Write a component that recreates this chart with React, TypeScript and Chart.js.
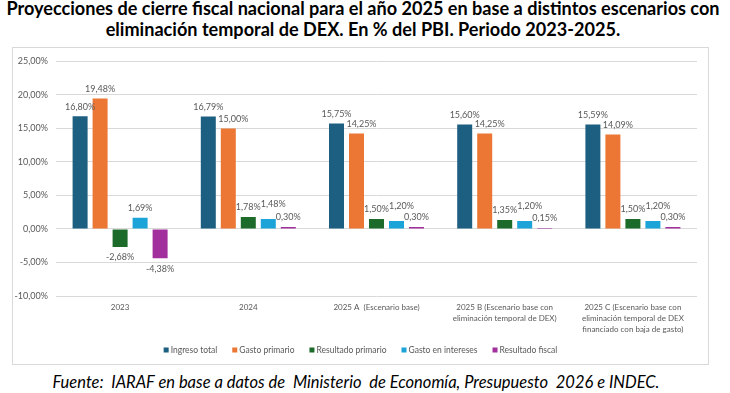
import React, { useEffect, useRef } from "react";
import { Chart, registerables } from "chart.js";

Chart.register(...registerables);

const categories: (string | string[])[] = [
  "2023",
  "2024",
  "2025 A  (Escenario base)",
  ["2025 B (Escenario base con", "eliminación temporal de DEX)"],
  ["2025 C (Escenario base con", "eliminación temporal de DEX", "financiado con baja de gasto)"],
];

const ingresoTotal = [16.8, 16.79, 15.75, 15.6, 15.59];
const gastoPrimario = [19.48, 15.0, 14.25, 14.25, 14.09];
const resultadoPrimario = [-2.68, 1.78, 1.5, 1.35, 1.5];
const gastoIntereses = [1.69, 1.48, 1.2, 1.2, 1.2];
const resultadoFiscal = [-4.38, 0.3, 0.3, 0.15, 0.3];

const seriesNames = [
  "Ingreso total",
  "Gasto primario",
  "Resultado primario",
  "Gasto en intereses",
  "Resultado fiscal",
];
const seriesColors = ["#1c5f80", "#ec7633", "#1d6b2a", "#1ca3d8", "#a2309c"];

const yMin = -10;
const yMax = 25;
const yStep = 5;

const FONT = "Lato, 'Noto Sans', sans-serif";
const TEXT_GRAY = "#595959";

const fmt = (v: number) => v.toFixed(2).replace(".", ",") + "%";

// label nudges applied only when a label would collide with the previous series' label
const labelNudge: ({ dx: number; dy: number } | null)[] = [
  null,
  { dx: 5, dy: 0 },
  null,
  { dx: 5, dy: -5 },
  null,
];

const dataLabelPlugin = {
  id: "dataLabels",
  afterDatasetsDraw(chart: any) {
    const ctx = chart.ctx;
    ctx.save();
    ctx.font = `9px ${FONT}`;
    ctx.fillStyle = TEXT_GRAY;
    ctx.textAlign = "center";
    ctx.textBaseline = "middle";
    const prevBoxes: any[] = [];
    chart.data.datasets.forEach((ds: any, di: number) => {
      const meta = chart.getDatasetMeta(di);
      const boxes: any[] = [];
      meta.data.forEach((el: any, i: number) => {
        const v = ds.data[i];
        const text = fmt(v);
        const w = ctx.measureText(text).width;
        let x = el.x;
        let y = v >= 0 ? el.y - 9.5 : el.y + 10.5;
        const nudge = labelNudge[di];
        const prev = di > 0 ? prevBoxes[i] : null;
        if (nudge && prev) {
          const overlap =
            Math.abs(prev.x - x) < (prev.w + w) / 2 && Math.abs(prev.y - y) < 14;
          if (overlap) {
            x += nudge.dx;
            y += nudge.dy;
          }
        }
        ctx.fillText(text, x, y);
        boxes[i] = { x, y, w };
      });
      boxes.forEach((b, i) => (prevBoxes[i] = b));
    });
    ctx.restore();
  },
};

const legendPlugin = {
  id: "customLegend",
  afterDraw(chart: any) {
    const ctx = chart.ctx;
    ctx.save();
    ctx.font = `8.5px ${FONT}`;
    ctx.textBaseline = "middle";
    ctx.textAlign = "left";
    const box = 5;
    const gap = 2;
    const sep = 15;
    const items = chart.data.datasets.map((ds: any) => ({
      text: ds.label,
      color: ds.backgroundColor,
      w: box + gap + ctx.measureText(ds.label).width,
    }));
    const total =
      items.reduce((s: number, it: any) => s + it.w, 0) + sep * (items.length - 1);
    let x = (chart.width - total) / 2;
    const y = 302;
    items.forEach((it: any) => {
      ctx.fillStyle = it.color;
      ctx.fillRect(x, y - box / 2, box, box);
      ctx.fillStyle = TEXT_GRAY;
      ctx.fillText(it.text, x + box + gap, y);
      x += it.w + sep;
    });
    ctx.restore();
  },
};

function BarChart() {
  const ref = useRef<HTMLCanvasElement | null>(null);
  useEffect(() => {
    if (!ref.current) return;
    const values = [ingresoTotal, gastoPrimario, resultadoPrimario, gastoIntereses, resultadoFiscal];
    const chart = new Chart(ref.current, {
      type: "bar",
      data: {
        labels: categories,
        datasets: values.map((d, i) => ({
          label: seriesNames[i],
          data: d,
          backgroundColor: seriesColors[i],
          borderWidth: 0,
          categoryPercentage: 0.78,
          barPercentage: 0.75,
        })),
      },
      options: {
        animation: false,
        responsive: false,
        devicePixelRatio: 1,
        layout: { padding: { left: 0, right: 11, top: 10, bottom: 0 } },
        plugins: {
          legend: { display: false },
          tooltip: { enabled: false },
          title: { display: false },
        },
        scales: {
          x: {
            grid: { display: false, drawTicks: false },
            border: { display: false },
            ticks: {
              color: TEXT_GRAY,
              font: { family: FONT, size: 8, lineHeight: "11px" },
              padding: 6,
              maxRotation: 0,
              autoSkip: false,
            },
            afterFit: (scale: any) => {
              scale.height = 68;
            },
          },
          y: {
            min: yMin,
            max: yMax,
            grid: { color: "#d9d9d9", lineWidth: 1, drawTicks: false },
            border: { display: false },
            ticks: {
              stepSize: yStep,
              color: TEXT_GRAY,
              font: { family: FONT, size: 9 },
              padding: 8,
              callback: (v: any) => fmt(Number(v)),
            },
            afterFit: (scale: any) => {
              scale.width = 43;
            },
          },
        },
      },
      plugins: [dataLabelPlugin, legendPlugin],
    });
    return () => chart.destroy();
  }, []);
  return (
    <canvas
      ref={ref}
      width={695}
      height={316}
      style={{ position: "absolute", left: 13, top: 48, width: 695, height: 316 }}
    />
  );
}

export default function App() {
  return (
    <div
      style={{
        position: "fixed",
        left: 0,
        top: 0,
        width: 730,
        height: 393,
        background: "#fff",
        fontFamily: FONT,
        overflow: "hidden",
      }}
    >
      <div
        style={{
          position: "absolute",
          left: 0,
          top: -2,
          width: 726,
          textAlign: "center",
          fontWeight: 700,
          fontSize: 18.1,
          lineHeight: "21px",
          color: "#000",
          whiteSpace: "nowrap",
        }}
      >
        <div>Proyecciones de cierre fiscal nacional para el año 2025 en base a distintos escenarios con</div>
        <div>eliminación temporal de DEX. En % del PBI. Periodo 2023-2025.</div>
      </div>
      <div
        style={{
          position: "absolute",
          left: 12,
          top: 47,
          width: 695,
          height: 316,
          border: "1px solid #d9d9d9",
        }}
      />
      <BarChart />
      <div
        style={{
          position: "absolute",
          left: 0,
          top: 371,
          width: 712,
          textAlign: "center",
          fontStyle: "italic",
          fontSize: 16.5,
          lineHeight: "22px",
          color: "#000",
          whiteSpace: "pre",
        }}
      >
        {"Fuente:  IARAF en base a datos de  Ministerio  de Economía, Presupuesto  2026 e INDEC."}
      </div>
    </div>
  );
}
